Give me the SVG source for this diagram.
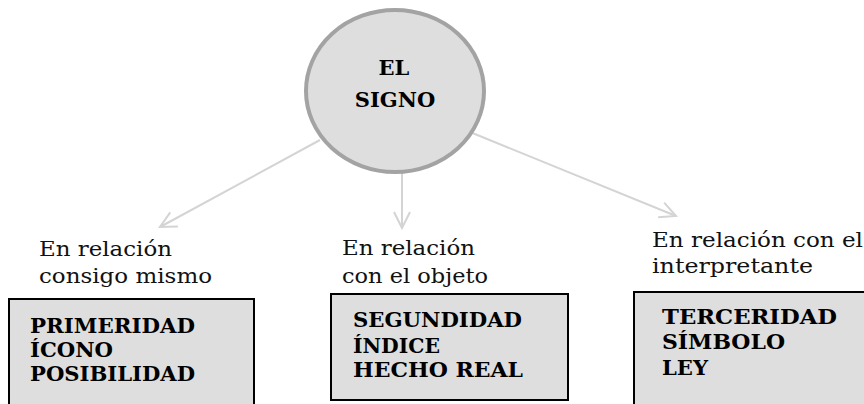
<svg xmlns="http://www.w3.org/2000/svg" width="864" height="404" viewBox="0 0 864 404">
<defs>
<style>
.lab{font-family:"DejaVu Serif","Liberation Serif",serif;font-size:21px;fill:#111}
.bold{font-family:"DejaVu Serif","Liberation Serif",serif;font-size:21px;font-weight:bold;fill:#000}
.box{fill:#dedede;stroke:#000;stroke-width:2}
.conn{stroke:#d4d4d4;stroke-width:2;fill:none}
</style>
<marker id="arr" viewBox="0 0 20 20" refX="18" refY="10" markerWidth="20" markerHeight="20" markerUnits="userSpaceOnUse" orient="auto">
<path d="M2,2 L18,10 L2,18" fill="none" stroke="#d4d4d4" stroke-width="2"/>
</marker>
</defs>
<rect width="864" height="404" fill="#fff"/>
<g id="connectors">
<line class="conn" x1="320" y1="140" x2="160" y2="227" marker-end="url(#arr)"/>
<line class="conn" x1="402" y1="172" x2="402" y2="228" marker-end="url(#arr)"/>
<line class="conn" x1="470" y1="132" x2="676" y2="216" marker-end="url(#arr)"/>
</g>
<g id="el-signo">
<ellipse cx="395" cy="91" rx="89" ry="81" fill="#dedede" stroke="#a3a3a3" stroke-width="4"/>
<text class="bold" font-size="18" x="394" y="75" text-anchor="middle">EL</text>
<text class="bold" font-size="18" x="395" y="107" text-anchor="middle">SIGNO</text>
</g>
<g id="primeridad">
<text class="lab" x="39" y="256" textLength="133" lengthAdjust="spacingAndGlyphs">En relación</text>
<text class="lab" x="39" y="283" textLength="173" lengthAdjust="spacingAndGlyphs">consigo mismo</text>
<rect class="box" x="9" y="299" width="245" height="110"/>
<text class="bold" x="30" y="333" textLength="165" lengthAdjust="spacingAndGlyphs">PRIMERIDAD</text>
<text class="bold" x="30" y="357" textLength="83" lengthAdjust="spacingAndGlyphs">ÍCONO</text>
<text class="bold" x="30" y="381" textLength="165" lengthAdjust="spacingAndGlyphs">POSIBILIDAD</text>
</g>
<g id="segundidad">
<text class="lab" x="342" y="255" textLength="133" lengthAdjust="spacingAndGlyphs">En relación</text>
<text class="lab" x="342" y="283" textLength="146" lengthAdjust="spacingAndGlyphs">con el objeto</text>
<rect class="box" x="331" y="294" width="237" height="106"/>
<text class="bold" x="353" y="327" textLength="169" lengthAdjust="spacingAndGlyphs">SEGUNDIDAD</text>
<text class="bold" x="353" y="353" textLength="87" lengthAdjust="spacingAndGlyphs">ÍNDICE</text>
<text class="bold" x="353" y="377" textLength="170" lengthAdjust="spacingAndGlyphs">HECHO REAL</text>
</g>
<g id="terceridad">
<text class="lab" x="652" y="247" textLength="211" lengthAdjust="spacingAndGlyphs">En relación con el</text>
<text class="lab" x="652" y="273" textLength="161" lengthAdjust="spacingAndGlyphs">interpretante</text>
<rect class="box" x="634" y="292" width="240" height="120"/>
<text class="bold" font-size="22" x="662" y="324" textLength="175" lengthAdjust="spacingAndGlyphs">TERCERIDAD</text>
<text class="bold" font-size="22" x="662" y="349" textLength="123" lengthAdjust="spacingAndGlyphs">SÍMBOLO</text>
<text class="bold" font-size="22" x="662" y="375" textLength="46" lengthAdjust="spacingAndGlyphs">LEY</text>
</g>
</svg>
